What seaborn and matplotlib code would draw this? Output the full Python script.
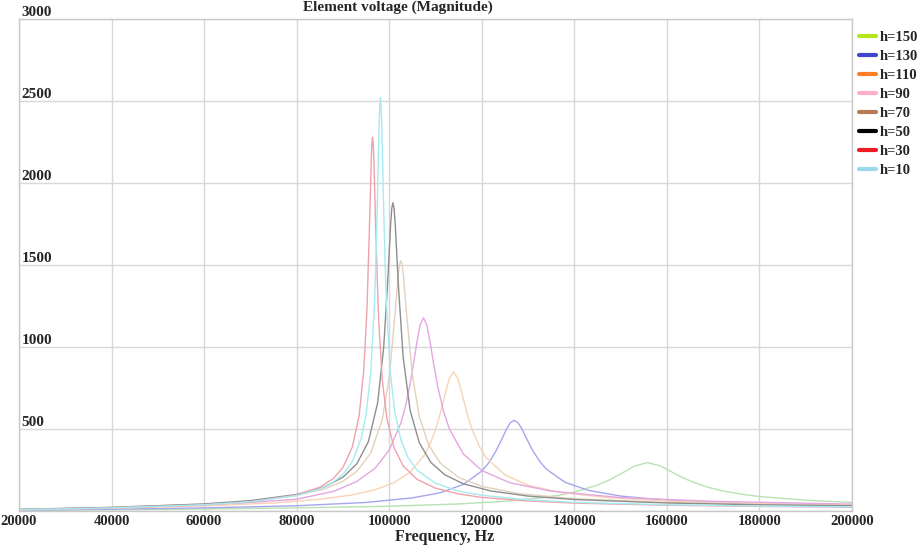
import numpy as np
import pandas as pd
import matplotlib
matplotlib.use("Agg")
import matplotlib.pyplot as plt
from matplotlib.lines import Line2D
import seaborn as sns

# values (frequency in Hz, voltage magnitude)
freq_h10 = [20000, 40000, 60000, 70000, 80000, 85000, 88000, 90000, 92000, 94000,
            95000, 96000, 96800, 97100, 97400, 97800, 97950, 98100, 98250, 98400,
            98800, 99100, 99400, 100200, 101200, 102500, 104000, 106000, 110000,
            115000, 120000, 130000, 140000, 160000, 180000, 200000]
volt_h10 = [8, 19, 38, 56, 94, 135, 178, 224, 300, 447,
            587, 843, 1255, 1513, 1844, 2341, 2471, 2520, 2471, 2342,
            1850, 1523, 1271, 857, 604, 436, 329, 249, 169,
            121, 96, 68, 53, 38, 30, 25]

freq_h30 = [20000, 40000, 60000, 70000, 80000, 85000, 88000, 90000, 92000, 93500,
            94500, 95200, 95800, 96100, 96250, 96400, 96550, 96700, 97100, 97700,
            98500, 99500, 101000, 103000, 106000, 110000, 115000, 120000, 130000,
            140000, 160000, 180000, 200000]
volt_h30 = [8, 18, 37, 56, 98, 145, 200, 265, 388, 582,
            858, 1234, 1803, 2127, 2239, 2280, 2239, 2128, 1697, 1175,
            799, 563, 389, 275, 193, 139, 104, 83, 61,
            48, 35, 28, 23]

freq_h50 = [20000, 40000, 60000, 70000, 80000, 86000, 90000, 93000, 95500, 97500,
            98800, 99700, 100300, 100550, 100800, 101050, 101300, 102000, 103000,
            104500, 106500, 109000, 112000, 116000, 122000, 130000, 140000, 160000,
            180000, 200000]
volt_h50 = [10, 22, 43, 63, 101, 147, 206, 288, 423, 660,
            995, 1413, 1747, 1844, 1880, 1844, 1748, 1366, 942,
            616, 416, 296, 221, 166, 122, 91, 70, 49,
            38, 32]

freq_h70 = [20000, 40000, 60000, 70000, 80000, 86000, 90000, 93000, 96000, 98500,
            100000, 101200, 102000, 102250, 102500, 102750, 103000, 103800, 105000,
            106500, 108500, 111000, 115000, 120000, 128000, 140000, 160000, 180000,
            200000]
volt_h70 = [10, 22, 42, 61, 95, 134, 181, 242, 353, 557,
            815, 1181, 1455, 1507, 1525, 1507, 1456, 1187, 830,
            576, 404, 293, 205, 150, 106, 75, 52, 40,
            33]

freq_h90 = [20000, 40000, 60000, 70000, 80000, 88000, 93000, 97000, 100000, 102500,
            103500, 104500, 105300, 106000, 106700, 107400, 108100, 108800, 109600,
            110500, 111700, 113000, 116000, 120000, 126000, 135000, 150000, 170000,
            200000]
volt_h90 = [9, 20, 38, 52, 72, 120, 180, 262, 372, 535,
            637, 773, 907, 1032, 1136, 1178, 1136, 1035, 897,
            756, 611, 500, 348, 247, 173, 121, 82, 59,
            42]

freq_h110 = [20000, 40000, 60000, 75000, 85000, 92000, 97000, 101000, 104500, 107500,
             108800, 110000, 111000, 112000, 113000, 113900, 114800, 115800, 117000,
             118000, 119500, 121000, 125000, 130000, 137000, 147000, 160000, 180000,
             200000]
volt_h110 = [8, 17, 31, 49, 71, 98, 130, 172, 236, 337,
             407, 495, 591, 704, 809, 849, 810, 708, 578,
             490, 392, 324, 220, 157, 113, 82, 61, 45,
             36]

freq_h130 = [20000, 40000, 60000, 80000, 95000, 105000, 111000, 116000, 120000, 121500,
             123000, 124300, 125500, 126200, 127000, 127800, 128500, 129700, 131000,
             132500, 134000, 138000, 143000, 150000, 160000, 175000, 200000]
volt_h130 = [5, 11, 19, 32, 52, 80, 111, 162, 243, 294,
             362, 437, 508, 539, 553, 539, 509, 441, 369,
             303, 254, 175, 126, 91, 65, 47, 33]

freq_h150 = [20000, 40000, 60000, 80000, 100000, 115000, 125000, 133000, 137000, 140000,
             145000, 147500, 150000, 153000, 155800, 158500, 161000, 163500, 166000,
             169000, 172000, 176000, 180000, 190000, 200000]
volt_h150 = [4, 7, 12, 19, 29, 43, 59, 81, 98, 115,
             158, 188, 226, 274, 295, 276, 239, 202, 172,
             144, 123, 103, 88, 66, 52]

labels = ["h=150", "h=130", "h=110", "h=90", "h=70", "h=50", "h=30", "h=10"]
series = {
    "h=150": (freq_h150, volt_h150),
    "h=130": (freq_h130, volt_h130),
    "h=110": (freq_h110, volt_h110),
    "h=90": (freq_h90, volt_h90),
    "h=70": (freq_h70, volt_h70),
    "h=50": (freq_h50, volt_h50),
    "h=30": (freq_h30, volt_h30),
    "h=10": (freq_h10, volt_h10),
}

# legend (full) colours and the washed-out colours of the curves themselves
legend_colors = ["#b5e61d", "#3f48cc", "#ff7f27", "#ffaec9",
                 "#b97a57", "#000000", "#ed1c24", "#99d9ea"]
curve_colors = ["#b8e2b4", "#a6a6ee", "#f8d4b4", "#e6a6e2",
                "#e2d2bc", "#8e8e8e", "#f0a2ac", "#a6eaf2"]

df = pd.concat(
    [pd.DataFrame({"freq": f, "volt": v, "h": name}) for name, (f, v) in series.items()],
    ignore_index=True,
)

sns.set_theme(style="white")
plt.rcParams["font.family"] = ["Liberation Serif", "DejaVu Serif"]

fig = plt.figure(figsize=(9.18, 5.46), dpi=100)
ax = fig.add_axes([19 / 918, 35 / 546, 833 / 918, 492 / 546])

sns.lineplot(
    data=df,
    x="freq",
    y="volt",
    hue="h",
    hue_order=labels,
    palette=dict(zip(labels, curve_colors)),
    estimator=None,
    linewidth=1.0,
    legend=False,
    ax=ax,
)

ax.set_xlim(20000, 200000)
ax.set_ylim(0, 3000)
ax.set_xticks(np.arange(20000, 200001, 20000))
ax.set_xticklabels([str(t) for t in range(20000, 200001, 20000)],
                   fontsize=10.5, fontweight="bold")
ax.set_yticks(np.arange(0, 3001, 500))
ax.set_yticklabels([""] + [str(t) for t in range(500, 3001, 500)],
                   fontsize=11, fontweight="bold")
ax.tick_params(axis="x", length=0, pad=3)
ax.tick_params(axis="y", length=0, pad=-2)
for lbl in ax.get_yticklabels():
    lbl.set_horizontalalignment("left")
    lbl.set_verticalalignment("bottom")

ax.grid(True, color="#d8d8d8", linewidth=1.0)
for sp in ax.spines.values():
    sp.set_color("#c8c8c8")
    sp.set_linewidth(1.0)
ax.set_xlabel("")
ax.set_ylabel("")

fig.text(398 / 918, 1 - 7 / 546, "Element voltage (Magnitude)",
         ha="center", va="center", fontsize=11, fontweight="bold")
fig.text(445 / 918, 1 - 537 / 546, "Frequency, Hz",
         ha="center", va="center", fontsize=11.5, fontweight="bold")

handles = [Line2D([0], [0], color=c, linewidth=3) for c in legend_colors]
fig.legend(
    handles,
    labels,
    loc="upper left",
    bbox_to_anchor=(853 / 918, 1 - 25 / 546),
    frameon=False,
    handlelength=1.2,
    handletextpad=0.2,
    labelspacing=0.4,
    borderaxespad=0,
    prop={"weight": "bold", "size": 10.5},
)

fig.savefig("out.png", dpi=100)
